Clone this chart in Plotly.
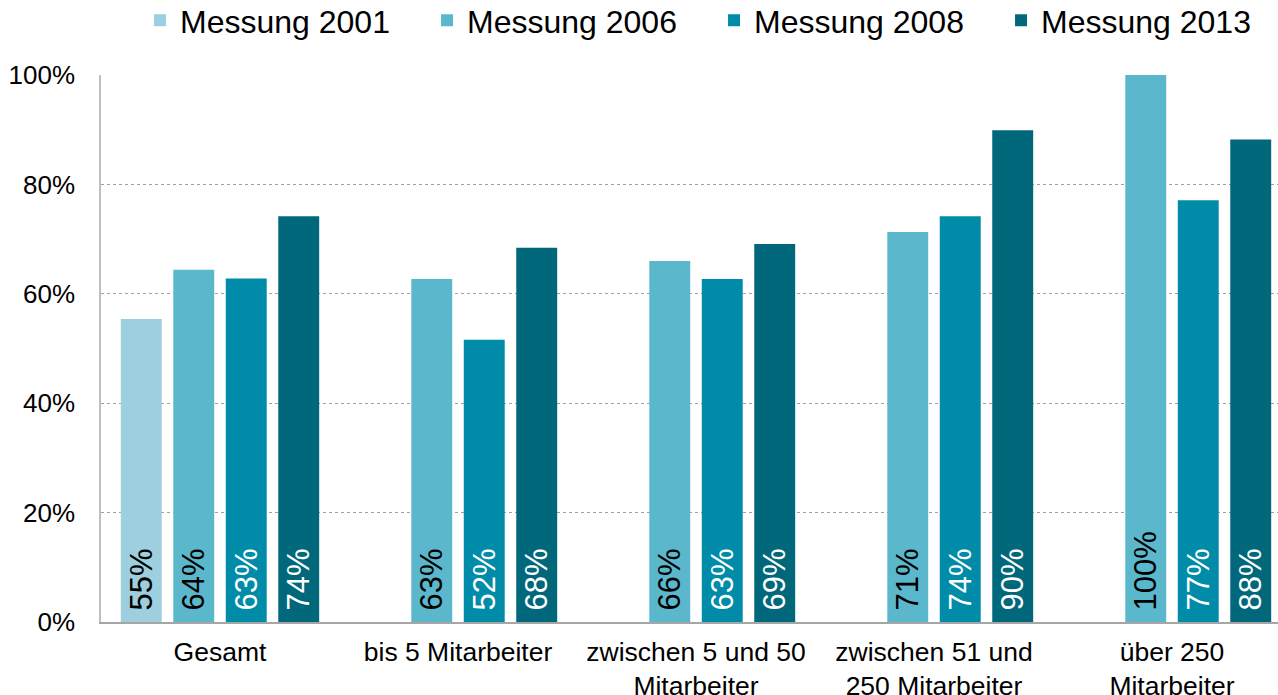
import plotly.graph_objects as go

categories = ["Gesamt", "bis 5 Mitarbeiter", "zwischen 5 und 50<br>Mitarbeiter",
              "zwischen 51 und<br>250 Mitarbeiter", "über 250<br>Mitarbeiter"]
series_names = ["Messung 2001", "Messung 2006", "Messung 2008", "Messung 2013"]
m2001 = [55.4, None, None, None, None]
m2006 = [64.4, 62.7, 66.0, 71.3, 100.0]
m2008 = [62.8, 51.6, 62.7, 74.2, 77.1]
m2013 = [74.2, 68.4, 69.1, 89.9, 88.2]
series_values = [m2001, m2006, m2008, m2013]
colors = ["#9DCFDE", "#5BB7CB", "#008BA8", "#00687A"]
text_colors = ["#000000", "#000000", "#FFFFFF", "#FFFFFF"]
y_ticks = [0, 20, 40, 60, 80, 100]
y_tick_labels = ["0%", "20%", "40%", "60%", "80%", "100%"]

FONT = "Liberation Sans, Arial, sans-serif"

fig = go.Figure()
for name, vals, col, tcol in zip(series_names, series_values, colors, text_colors):
    fig.add_trace(go.Bar(
        name=name, x=categories, y=vals,
        marker=dict(color=col, line=dict(width=0)),
        text=[None if v is None else "\u00a0%d%%" % round(v) for v in vals],
        textposition="inside", insidetextanchor="start", textangle=-90,
        constraintext="none",
        insidetextfont=dict(family=FONT, size=31, color=tcol),
        hoverinfo="skip",
    ))

fig.update_layout(
    barmode="group", bargap=0.118, bargroupgap=0.22,
    width=1291, height=695,
    margin=dict(l=101, r=0, t=75, b=73, autoexpand=False),
    paper_bgcolor="white", plot_bgcolor="white",
    font=dict(family=FONT, size=26, color="#000000"),
    showlegend=True,
    legend=dict(orientation="h", x=0.0328, xanchor="left",
                yref="paper", y=1.15, yanchor="top",
                entrywidth=242, entrywidthmode="pixels",
                font=dict(family=FONT, size=32), itemclick=False,
                traceorder="normal", bgcolor="rgba(0,0,0,0)"),
    uniformtext=dict(mode=False),
)
fig.update_xaxes(
    showgrid=False, showline=True, linecolor="#A6A6A6", linewidth=1.5,
    ticks="outside", ticklen=5, tickcolor="rgba(0,0,0,0)",
    tickfont=dict(family=FONT, size=26.5), fixedrange=True, automargin=False,
)
fig.update_yaxes(
    range=[0, 100], tickvals=y_ticks, ticktext=y_tick_labels,
    showgrid=True, gridcolor="#A0A0A0", griddash="dot", gridwidth=1,
    showline=True, linecolor="#BFBFBF", linewidth=1.5,
    zeroline=False, ticklabelstandoff=19,
    tickfont=dict(family=FONT, size=26), fixedrange=True, automargin=False,
)

fig.write_html(
    "out.html",
    config={"displayModeBar": False},
    post_script="document.body.style.margin='0';document.body.style.overflow='hidden';",
)
